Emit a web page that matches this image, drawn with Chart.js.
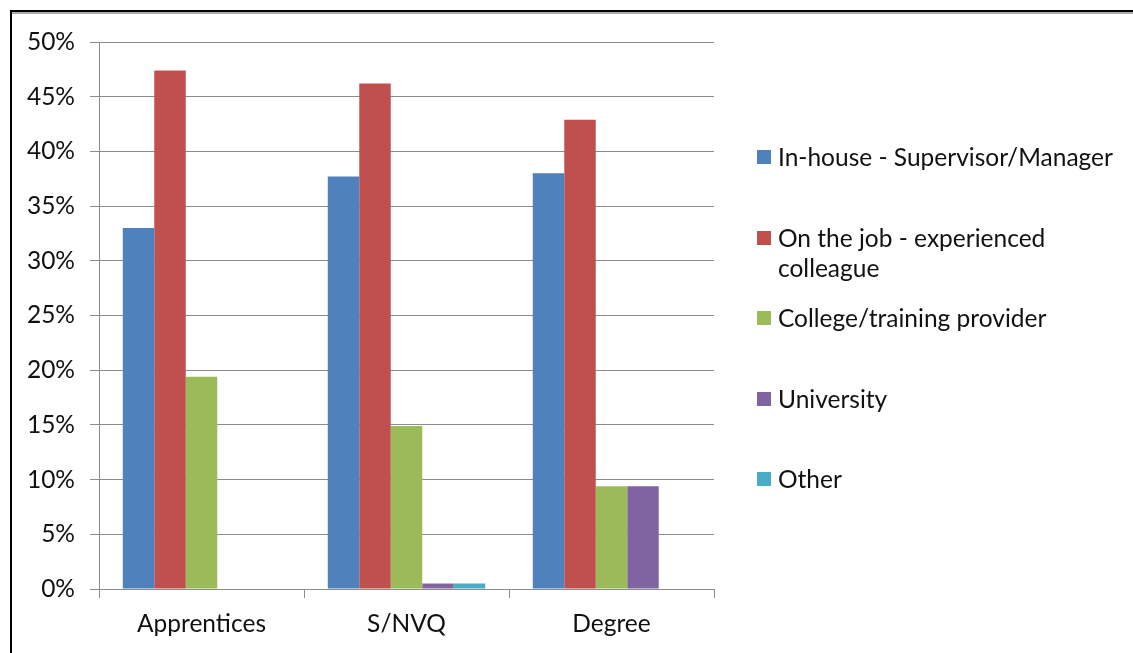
<!DOCTYPE html>
<html>
<head>
<meta charset="utf-8">
<script src="https://cdn.jsdelivr.net/npm/chart.js@4.4.1/dist/chart.umd.min.js"></script>
<style>
  html, body { margin:0; padding:0; background:#fff; }
  #wrap { position:relative; width:1133px; height:653px; overflow:hidden; }
  #c { position:absolute; left:0; top:0; }
  .frameL { position:absolute; left:10px; top:10px; width:2px; height:643px; background:#000; }
  .frameT { position:absolute; left:10px; top:10px; width:1123px; height:2px; background:#000; }
  .frameS { position:absolute; left:12px; top:12px; width:1121px; height:2px; background:#aaa; }
  .leg { position:absolute; left:757px; font-family:Lato, sans-serif; font-size:24.5px; color:#111; line-height:30px; }
  .leg .sw { position:absolute; left:0; width:14px; height:14px; }
  .leg .tx { position:absolute; left:21px; white-space:nowrap; }
</style>
</head>
<body>
<div id="wrap">
  <canvas id="c" width="1133" height="653"></canvas>
  <div class="frameS"></div>
  <div class="frameT"></div>
  <div class="frameL"></div>
  <div id="legend"></div>
</div>
<script>
const categories = ["Apprentices", "S/NVQ", "Degree"];
const seriesNames = ["In-house - Supervisor/Manager", "On the job - experienced colleague", "College/training provider", "University", "Other"];
const legendLines = [["In-house - Supervisor/Manager"], ["On the job - experienced", "colleague"], ["College/training provider"], ["University"], ["Other"]];
const inHouse   = [33.0, 37.7, 38.0];
const onTheJob  = [47.4, 46.2, 42.9];
const college   = [19.4, 14.9, 9.4];
const university= [0, 0.5, 9.4];
const other     = [0, 0.5, 0];
const yTicks = [0, 5, 10, 15, 20, 25, 30, 35, 40, 45, 50];
const colors = ["#4F81BD", "#C0504D", "#9BBB59", "#8064A2", "#4BACC6"];
const seriesValues = [inHouse, onTheJob, college, university, other];

const FONT = "Lato, sans-serif";

new Chart(document.getElementById("c"), {
  type: "bar",
  data: {
    labels: categories,
    datasets: seriesValues.map((v, i) => ({
      label: seriesNames[i],
      data: v,
      backgroundColor: colors[i],
      borderWidth: 0,
      categoryPercentage: 0.768,
      barPercentage: 1.0
    }))
  },
  options: {
    responsive: false,
    animation: false,
    devicePixelRatio: 1,
    layout: { padding: { left: 0, top: 42, right: 419, bottom: 0 } },
    plugins: { legend: { display: false }, tooltip: { enabled: false } },
    scales: {
      x: {
        offset: true,
        grid: { drawOnChartArea: false, drawTicks: true, tickLength: 9, offset: true, color: "#8c8c8c", lineWidth: 1 },
        border: { display: true, color: "#8c8c8c", width: 1 },
        ticks: { color: "#111", font: { family: FONT, size: 24.5 }, padding: 11 },
        afterFit: s => { s.height = 64; }
      },
      y: {
        min: 0, max: 50,
        afterBuildTicks: s => { s.ticks = yTicks.map(v => ({ value: v })); },
        grid: { drawTicks: true, tickLength: 9, color: "#8c8c8c", lineWidth: 1 },
        border: { display: true, color: "#8c8c8c", width: 1 },
        ticks: { color: "#111", font: { family: FONT, size: 24.5 }, padding: 15, callback: v => v + "%" },
        afterFit: s => { s.width = 99; }
      }
    }
  }
});

// HTML legend
const centers = [157, 238, 318, 399, 479];
const legend = document.getElementById("legend");
seriesNames.forEach((name, i) => {
  const d = document.createElement("div");
  d.className = "leg";
  d.style.top = (centers[i] - 15) + "px";
  const sw = document.createElement("div");
  sw.className = "sw";
  sw.style.background = colors[i];
  sw.style.top = "8px";
  const tx = document.createElement("div");
  tx.className = "tx";
  tx.innerHTML = legendLines[i].join("<br>");
  d.appendChild(sw); d.appendChild(tx);
  legend.appendChild(d);
});
</script>
</body>
</html>
